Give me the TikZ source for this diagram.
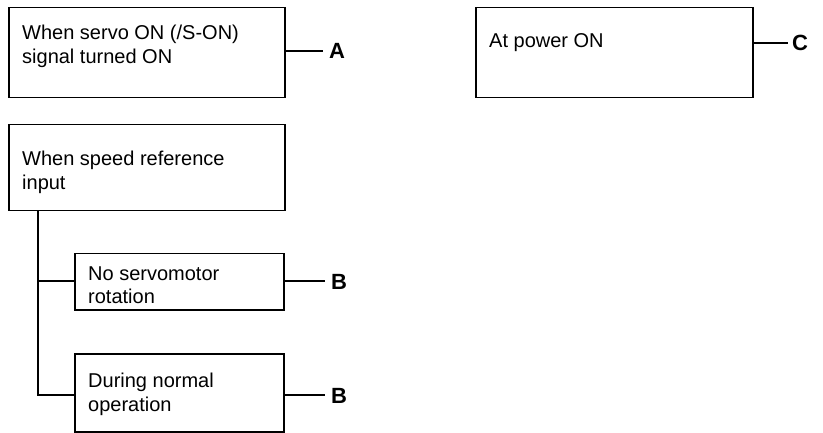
\documentclass[tikz,border=0pt]{standalone}
\usepackage{fontspec}
\setmainfont{Liberation Sans}
\begin{document}
\begin{tikzpicture}[x=1pt,y=-1pt,
  box/.style={draw,line width=1.5pt,inner sep=0pt,anchor=north west},
  txt/.style={anchor=base west,inner sep=0pt,font=\fontsize{20}{24}\selectfont},
  lbl/.style={anchor=base west,inner sep=0pt,font=\fontsize{22}{24}\selectfont\bfseries},
  conn/.style={line width=1.5pt}]
\useasboundingbox (0,0) rectangle (823,433);
% boxes
\node[box,minimum width=276pt,minimum height=90pt] (bA) at (8,7) {};
\node[box,minimum width=276pt,minimum height=86pt] (bS) at (8,124) {};
\node[box,minimum width=209pt,minimum height=56pt] (bN) at (74,253) {};
\node[box,minimum width=209pt,minimum height=78pt] (bD) at (74,353) {};
\node[box,minimum width=277pt,minimum height=90pt] (bC) at (475,7) {};
% texts
\node[txt] (tA1) at (22,40) {When servo ON (/S-ON)};
\node[txt] (tA2) at (22,64) {signal turned ON};
\node[txt] (tS1) at (22,166) {When speed reference};
\node[txt] (tS2) at (22,190) {input};
\node[txt] (tN1) at (88,280) {No servomotor};
\node[txt] (tN2) at (88,304) {rotation};
\node[txt] (tD1) at (88,387) {During normal};
\node[txt] (tD2) at (88,411) {operation};
\node[txt] (tC) at (489,48) {At power ON};
% labels
\coordinate (eA) at (323,51);
\coordinate (eN) at (325,281);
\coordinate (eD) at (325,395);
\coordinate (eC) at (788,43);
\node[lbl] (lA) at (329,59) {A};
\node[lbl] (lN) at (331,289) {B};
\node[lbl] (lD) at (331,403) {B};
\node[lbl] (lC) at (792,51) {C};
% connectors
\draw[conn] (bA.east |- eA) -- (eA);
\draw[conn] (bN.east |- eN) -- (eN);
\draw[conn] (bD.east |- eD) -- (eD);
\draw[conn] (bC.east |- eC) -- (eC);
\coordinate (tr) at (38,0);
\draw[conn] (tr |- bS.south) |- (bD.west |- eD);
\draw[conn] (tr |- eN) -- (bN.west |- eN);
\end{tikzpicture}
\end{document}
